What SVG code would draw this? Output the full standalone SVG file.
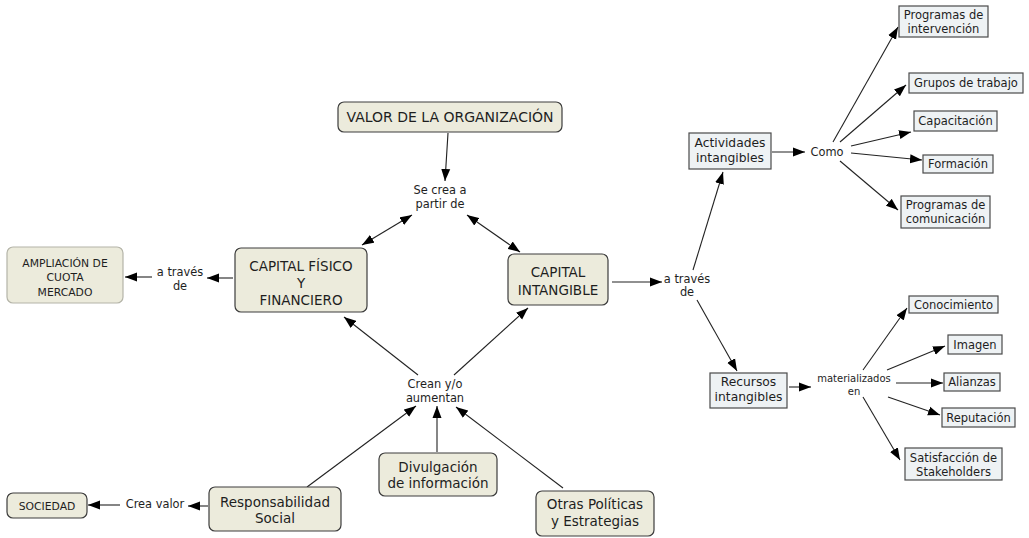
<svg xmlns="http://www.w3.org/2000/svg" width="1029" height="538" viewBox="0 0 1029 538">
<defs>
<marker id="ah" markerUnits="userSpaceOnUse" markerWidth="13" markerHeight="10" refX="12" refY="5" orient="auto-start-reverse" viewBox="0 0 13 10">
<path d="M0,0.5 L12,5 L0,9.5 z" fill="#000"/>
</marker>
<style>
.b{fill:#ECEBDC;stroke:#3c3c3c;stroke-width:1.2}
.bl{fill:#ECEBDC;stroke:#b4b4a8;stroke-width:1.2}
.q{fill:#EEF2F4;stroke:#4a4a4a;stroke-width:1.2}
text{font-family:"DejaVu Sans",Verdana,sans-serif;fill:#1e1e1e;text-anchor:middle;dominant-baseline:central}
.t{font-size:13.5px}
.tv{font-size:14px}
.ts{font-size:10.8px}
.tq{font-size:11.5px}
.tr{font-size:12.3px}
.lp{font-size:11.4px}
.lm{font-size:10px}
.c line{stroke:#222;stroke-width:1.1;marker-end:url(#ah)}
.c line.d{marker-start:url(#ah)}
</style>
</defs>
<rect width="1029" height="538" fill="#fff"/>
<g class="c" id="connectors">
<line x1="448" y1="133" x2="445" y2="181"/>
<line class="d" x1="362" y1="245" x2="412" y2="215"/>
<line class="d" x1="467" y1="215" x2="520" y2="252"/>
<line x1="233" y1="278" x2="207" y2="278"/>
<line x1="152" y1="277" x2="125" y2="277"/>
<line x1="418" y1="375" x2="344" y2="317"/>
<line x1="454" y1="375" x2="528" y2="308"/>
<line x1="307" y1="487" x2="416" y2="406"/>
<line x1="437" y1="452" x2="437" y2="406"/>
<line x1="563" y1="488" x2="456" y2="407"/>
<line x1="208" y1="506" x2="188" y2="506"/>
<line x1="120" y1="505" x2="88" y2="505"/>
<line x1="612" y1="282" x2="662" y2="282"/>
<line x1="693" y1="270" x2="723" y2="172"/>
<line x1="697" y1="300" x2="737" y2="371"/>
<line x1="772" y1="152" x2="805" y2="152"/>
<line x1="833" y1="142" x2="898" y2="27"/>
<line x1="840" y1="142" x2="906" y2="85"/>
<line x1="851" y1="146" x2="911" y2="132"/>
<line x1="851" y1="153" x2="922" y2="160"/>
<line x1="840" y1="161" x2="898" y2="210"/>
<line x1="789" y1="387" x2="811" y2="387"/>
<line x1="863" y1="370" x2="907" y2="308"/>
<line x1="887" y1="370" x2="945" y2="346"/>
<line x1="896" y1="383" x2="943" y2="383"/>
<line x1="888" y1="397" x2="940" y2="415"/>
<line x1="863" y1="397" x2="900" y2="460"/>
</g>
<g id="n-valor"><rect class="b" x="338" y="102" width="224" height="30" rx="6"/><text class="tv" x="450" y="117">VALOR DE LA ORGANIZACIÓN</text></g>
<g id="n-secrea"><text class="lp" x="440" y="190">Se crea a</text><text class="lp" x="440" y="204">partir de</text></g>
<g id="n-cff"><rect class="b" x="235" y="248" width="132" height="64" rx="6"/><text class="t" x="301" y="266">CAPITAL FÍSICO</text><text class="t" x="301" y="283">Y</text><text class="t" x="301" y="300">FINANCIERO</text></g>
<g id="n-ci"><rect class="b" x="508" y="254" width="100" height="51" rx="6"/><text class="t" x="558" y="272">CAPITAL</text><text class="t" x="558" y="290">INTANGIBLE</text></g>
<g id="n-atraves1"><text class="lp" x="180" y="272">a través</text><text class="lp" x="180" y="286">de</text></g>
<g id="n-ampl"><rect class="bl" x="7" y="247" width="116" height="56" rx="6"/><text class="ts" x="65" y="263">AMPLIACIÓN DE</text><text class="ts" x="65" y="277">CUOTA</text><text class="ts" x="65" y="292">MERCADO</text></g>
<g id="n-crean"><text class="lp" x="435" y="384">Crean y/o</text><text class="lp" x="435" y="398">aumentan</text></g>
<g id="n-resp"><rect class="b" x="209" y="487" width="132" height="44" rx="6"/><text class="t" x="275" y="502">Responsabilidad</text><text class="t" x="275" y="518">Social</text></g>
<g id="n-divul"><rect class="b" x="379" y="453" width="118" height="43" rx="6"/><text class="t" x="438" y="467">Divulgación</text><text class="t" x="438" y="483">de información</text></g>
<g id="n-otras"><rect class="b" x="536" y="491" width="118" height="45" rx="6"/><text class="t" x="595" y="504">Otras Políticas</text><text class="t" x="595" y="521">y Estrategias</text></g>
<g id="n-creavalor"><text class="lp" x="155" y="504">Crea valor</text></g>
<g id="n-soc"><rect class="b" x="7" y="493" width="80" height="25" rx="6"/><text class="ts" x="47" y="506">SOCIEDAD</text></g>
<g id="n-atraves2"><text class="lp" x="687" y="279">a través</text><text class="lp" x="687" y="292">de</text></g>
<g id="n-activ"><rect class="q" x="689" y="133" width="82" height="36"/><text class="tr" x="730" y="143">Actividades</text><text class="tr" x="730" y="158">intangibles</text></g>
<g id="n-como"><text class="lp" x="827" y="152">Como</text></g>
<g id="n-pinterv"><rect class="q" x="899" y="6" width="89" height="31"/><text class="tq" x="943.5" y="15">Programas de</text><text class="tq" x="943.5" y="29">intervención</text></g>
<g id="n-grupos"><rect class="q" x="909" y="73" width="114" height="20"/><text class="tq" x="966" y="83">Grupos de trabajo</text></g>
<g id="n-capac"><rect class="q" x="914" y="111" width="83" height="20"/><text class="tq" x="955.5" y="121">Capacitación</text></g>
<g id="n-form"><rect class="q" x="923" y="155" width="70" height="18"/><text class="tq" x="958" y="164">Formación</text></g>
<g id="n-pcomun"><rect class="q" x="901" y="196" width="89" height="32"/><text class="tq" x="945.5" y="205">Programas de</text><text class="tq" x="945.5" y="219">comunicación</text></g>
<g id="n-recur"><rect class="q" x="710" y="373" width="77" height="35"/><text class="tr" x="748.5" y="382">Recursos</text><text class="tr" x="748.5" y="397">intangibles</text></g>
<g id="n-mater"><text class="lm" x="854" y="378">materializados</text><text class="lm" x="854" y="391">en</text></g>
<g id="n-conoc"><rect class="q" x="909" y="296" width="89" height="17"/><text class="tq" x="953.5" y="304.5">Conocimiento</text></g>
<g id="n-imagen"><rect class="q" x="948" y="335" width="54" height="19"/><text class="tq" x="975" y="344.5">Imagen</text></g>
<g id="n-alian"><rect class="q" x="944" y="373" width="56" height="18"/><text class="tq" x="972" y="382">Alianzas</text></g>
<g id="n-reput"><rect class="q" x="942" y="408" width="73" height="19"/><text class="tq" x="978.5" y="417.5">Reputación</text></g>
<g id="n-satis"><rect class="q" x="905" y="448" width="97" height="32"/><text class="tq" x="953.5" y="458">Satisfacción de</text><text class="tq" x="953.5" y="472">Stakeholders</text></g>
</svg>
